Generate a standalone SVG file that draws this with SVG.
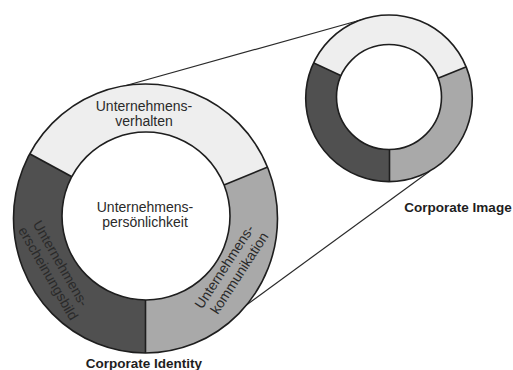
<svg xmlns="http://www.w3.org/2000/svg" width="513" height="370" viewBox="0 0 513 370">
<style>
.ring{fill:none;stroke:#1e1e1e;stroke-width:1.6}
.inner{fill:#ffffff;stroke:#1e1e1e;stroke-width:1.6}
.div{stroke:#1e1e1e;stroke-width:1.6}
.light{fill:#eeeeee}
.mid{fill:#a9a9a9}
.dark{fill:#505050}
.conn{stroke:#2a2a2a;stroke-width:1.2;fill:none}
.lbl{font-family:"Liberation Sans",Arial,sans-serif;font-size:14px;fill:#2a2a2a;text-anchor:middle}
.ttl{font-family:"Liberation Sans",Arial,sans-serif;font-size:13.5px;font-weight:bold;fill:#1e1e1e;text-anchor:middle}
</style>
<defs>
<clipPath id="bigClip"><ellipse cx="145.5" cy="218.5" rx="132" ry="134.5"/></clipPath>
<clipPath id="smallClip"><circle cx="389" cy="98.3" r="83.3"/></clipPath>
</defs>
<rect width="513" height="370" fill="#ffffff"/>
<g id="connectors">
<line class="conn" x1="110" y1="90" x2="366" y2="18.5"/>
<line class="conn" x1="232" y1="315.5" x2="430" y2="171"/>
</g>
<g id="corporate-identity">
<g clip-path="url(#bigClip)">
<polygon class="light" points="146,217 -117.6,73.8 -4,-42.8 146,-83 296,-42.8 423.6,103.2"/>
<polygon class="mid" points="146,217 423.6,103.2 446,217 358.1,429.1 146,517"/>
<polygon class="dark" points="146,217 146,517 -66.1,429.1 -154,217 -117.6,73.8"/>
<line class="div" x1="146" y1="217" x2="-117.6" y2="73.8"/>
<line class="div" x1="146" y1="217" x2="423.6" y2="103.2"/>
<line class="div" x1="145.5" y1="217" x2="145.5" y2="517"/>
</g>
<ellipse class="ring" cx="145.5" cy="218.5" rx="132" ry="134.5"/>
<circle class="inner" cx="146" cy="216" r="84"/>
<g id="verhalten">
<text class="lbl" x="144" y="111">Unternehmens-</text>
<text class="lbl" x="144" y="126">verhalten</text>
</g>
<g id="persoenlichkeit">
<text class="lbl" x="145" y="211.5">Unternehmens-</text>
<text class="lbl" x="145" y="226.5">persönlichkeit</text>
</g>
<g id="erscheinungsbild" transform="translate(56.5,265.8) rotate(60)">
<text class="lbl" x="0" y="0">Unternehmens-</text>
<text class="lbl" x="2.4" y="15.8">erscheinungsbild</text>
</g>
<g id="kommunikation" transform="translate(228.4,269.4) rotate(-57)">
<text class="lbl" x="0" y="0">Unternehmens-</text>
<text class="lbl" x="3" y="16">kommunikation</text>
</g>
<text class="ttl" x="144" y="368">Corporate Identity</text>
</g>
<g id="corporate-image">
<g clip-path="url(#smallClip)">
<polygon class="light" points="389,98 207.7,13.5 289,-75.2 389,-102 489,-75.2 574.4,23.1"/>
<polygon class="mid" points="389,98 574.4,23.1 589,98 530.4,239.4 389,298"/>
<polygon class="dark" points="389,98 389,298 247.6,239.4 189,98 207.7,13.5"/>
<line class="div" x1="389" y1="98" x2="207.7" y2="13.5"/>
<line class="div" x1="389" y1="98" x2="574.4" y2="23.1"/>
<line class="div" x1="389.5" y1="98" x2="389.5" y2="298"/>
</g>
<circle class="ring" cx="389" cy="98.3" r="83.3"/>
<circle class="inner" cx="389" cy="97" r="52.5"/>
<text class="ttl" x="458" y="212">Corporate Image</text>
</g>
</svg>
